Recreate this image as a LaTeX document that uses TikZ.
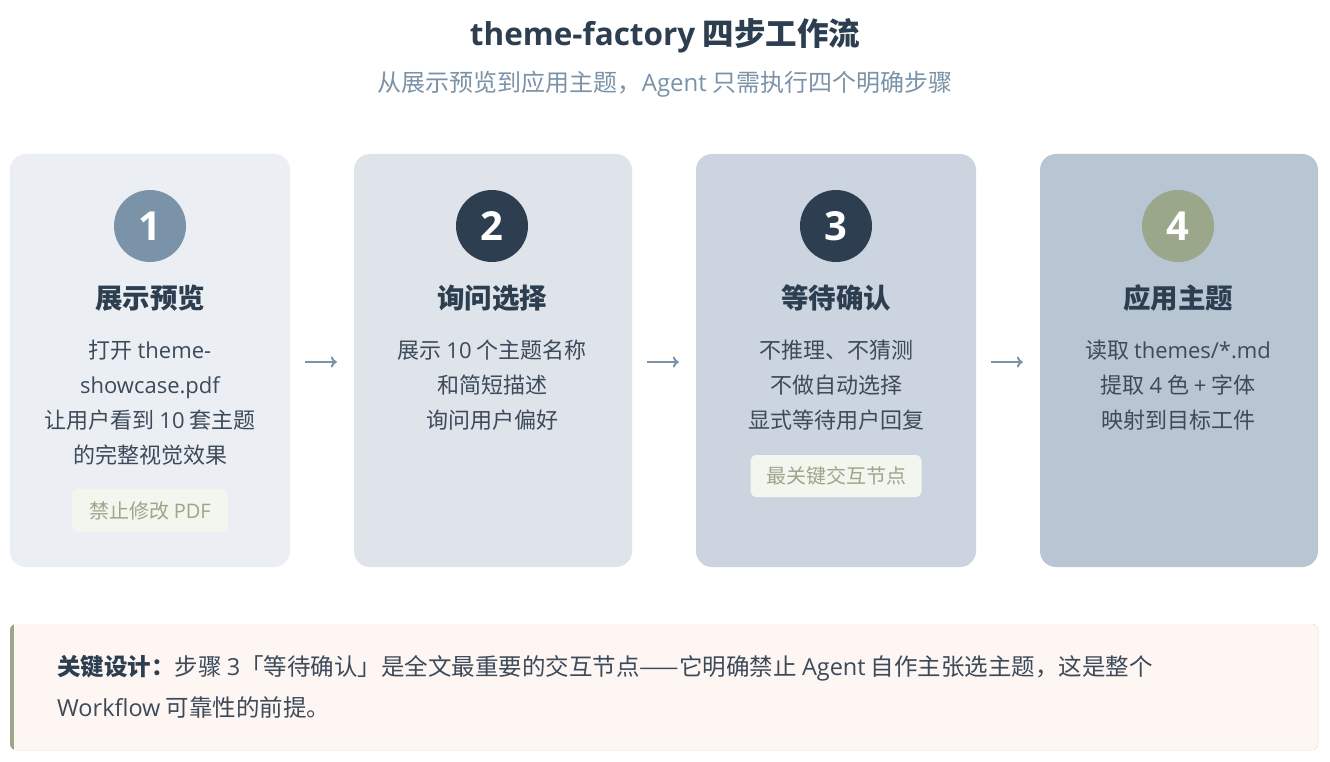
\documentclass[tikz,border=0pt]{standalone}
\usepackage{fontspec}
\setmainfont{Noto Sans CJK SC}
\newfontfamily\latf{Open Sans}
\usetikzlibrary{arrows.meta}
\definecolor{cardA}{HTML}{EBEFF3}
\definecolor{cardB}{HTML}{DFE4EA}
\definecolor{cardC}{HTML}{CCD5DF}
\definecolor{cardD}{HTML}{B8C5D2}
\definecolor{steel}{HTML}{7B93A8}
\definecolor{dark}{HTML}{2C3E50}
\definecolor{olive}{HTML}{9AA78A}
\definecolor{tagfill}{HTML}{F3F5EF}
\definecolor{bodytxt}{HTML}{3C4A5A}
\definecolor{notebg}{HTML}{FDF6F3}
\newcommand{\lt}[1]{{\latf #1}}
\begin{document}
\begin{tikzpicture}[x=1pt,y=-1pt,
  card/.style={rounded corners=16pt, minimum width=280pt, minimum height=413pt, inner sep=0pt},
  num/.style={circle, minimum size=72pt, inner sep=0pt, text=white, font=\fontsize{40}{40}\selectfont\bfseries\latf},
  head/.style={text=dark, font=\fontsize{27.5}{30}\selectfont\bfseries},
  bodyt/.style={text=bodytxt, align=center, font=\fontsize{22}{35}\selectfont},
  tagbox/.style={fill=tagfill, rounded corners=6pt, text=olive, inner sep=0pt, font=\fontsize{20}{22}\selectfont},
  arr/.style={draw=steel, line width=2pt, -{To[length=6pt,width=11pt]}, shorten >=1pt},
  notet/.style={text=bodytxt, anchor=west, inner sep=0pt, font=\fontsize{23.5}{26}\selectfont}]
\useasboundingbox (0,0) rectangle (1330,762);
\fill[white] (0,0) rectangle (1330,762);
% title
\node[text=dark, font=\fontsize{31.5}{34}\selectfont\bfseries] (title) at (665,36) {\lt{theme-factory} 四步工作流};
\node[text=steel, font=\fontsize{24}{26}\selectfont] (sub) at (665,84) {从展示预览到应用主题，\lt{Agent} 只需执行四个明确步骤};
% cards
\node[card, fill=cardA] (c1) at (150,360.5) {};
\node[card, fill=cardB, minimum width=278pt] (c2) at (493,360.5) {};
\node[card, fill=cardC] (c3) at (836,360.5) {};
\node[card, fill=cardD, minimum width=278pt] (c4) at (1179,360.5) {};
% circles
\node[num, fill=steel] (n1) at (150,226) {1};
\node[num, fill=dark] (n2) at (492,226) {2};
\node[num, fill=dark] (n3) at (836,226) {3};
\node[num, fill=olive] (n4) at (1178,226) {4};
% headings
\node[head] (h1) at (150,298) {展示预览};
\node[head] (h2) at (492,298) {询问选择};
\node[head] (h3) at (836,298) {等待确认};
\node[head] (h4) at (1178,298) {应用主题};
% bodies
\node[bodyt] (b1) at (150,403) {打开 \lt{theme-}\\\lt{showcase.pdf}\\让用户看到 \lt{10} 套主题\\的完整视觉效果};
\node[bodyt] (b2) at (492,385) {展示 \lt{10} 个主题名称\\和简短描述\\询问用户偏好};
\node[bodyt] (b3) at (836,385) {不推理、不猜测\\不做自动选择\\显式等待用户回复};
\node[bodyt] (b4) at (1178,385) {读取 \lt{themes/*.md}\\提取 \lt{4} 色 \lt{+} 字体\\映射到目标工件};
% tags
\node[tagbox, minimum width=156pt, minimum height=43pt] (t1) at (150,510.5) {禁止修改 \lt{PDF}};
\node[tagbox, minimum width=171pt, minimum height=42pt] (t3) at (836,476) {最关键交互节点};
% arrows
\draw[arr] ([xshift=15pt,yshift=-1.5pt]c1.east) -- ([xshift=-16pt,yshift=-1.5pt]c2.west);
\draw[arr] ([xshift=15pt,yshift=-1.5pt]c2.east) -- ([xshift=-16pt,yshift=-1.5pt]c3.west);
\draw[arr] ([xshift=15pt,yshift=-1.5pt]c3.east) -- ([xshift=-16pt,yshift=-1.5pt]c4.west);
% note
\fill[olive, rounded corners=6pt] (10,624) rectangle (1318,750);
\fill[notebg] (14,624) [rounded corners=6pt] -- (1318,624) -- (1318,750) [sharp corners] -- (14,750) -- cycle;
\node[notet] (l1) at (57,668) {\textcolor{dark}{\bfseries 关键设计：}步骤 \lt{3}「等待确认」是全文最重要的交互节点——它明确禁止 \lt{Agent} 自作主张选主题，这是整个};
\node[notet] (l2) at (57,708) {\lt{Workflow} 可靠性的前提。};
\end{tikzpicture}
\end{document}
